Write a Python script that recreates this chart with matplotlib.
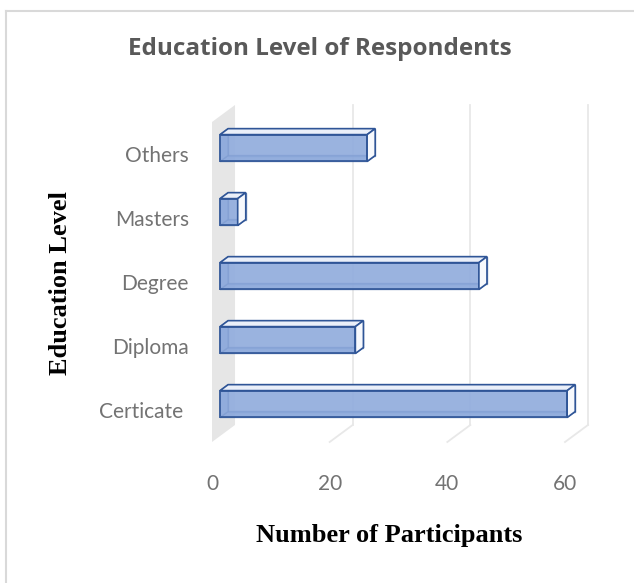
import numpy as np
import matplotlib.pyplot as plt
from matplotlib.patches import Polygon
from matplotlib.lines import Line2D

levels = ['Certicate ', 'Diploma', 'Degree', 'Masters', 'Others']
participants = [59, 23, 44, 3, 25]
x_ticks = [0, 20, 40, 60]

# oblique depth of the 3-D box: x in data units, y in category units
DX = 3.91
DY = 0.266
BAR_D0, BAR_D1 = 0.35, 0.70   # front / back of the bars, as a share of the depth
BAR_H = 0.42

EDGE = '#2f5597'
GRID = '#e8e8e8'

W, H = 634, 583
fig = plt.figure(figsize=(W / 100, H / 100), dpi=100)


def px_box(l, t, r, b):
    return [l / W, 1 - b / H, (r - l) / W, (b - t) / H]


ax = fig.add_axes(px_box(200, 95, 610, 455))
ax.set_xlim(-2.04, 67.65)
ax.set_ylim(-0.703, 4.922)
for s in ax.spines.values():
    s.set_visible(False)

n = len(levels)
y = np.arange(n)
v = np.array(participants, dtype=float)
y_lo, y_hi = -0.5, n - 0.5

# side wall on the left
wall = Polygon([(0, y_lo), (DX, y_lo + DY), (DX, y_hi + DY), (0, y_hi)],
               closed=True, facecolor='#e6e6e6', edgecolor='none', zorder=1)
ax.add_patch(wall)

# back wall gridlines and floor lines
for xt in x_ticks[1:]:
    ax.plot([xt + DX, xt + DX], [y_lo + DY, y_hi + DY], color=GRID, lw=1.3, zorder=1)
    ax.plot([xt, xt + DX], [y_lo, y_lo + DY], color=GRID, lw=1.3, zorder=1)

yf = y + BAR_D0 * DY
yb = y + BAR_D1 * DY
x0f, x0b = BAR_D0 * DX, BAR_D1 * DX
h2 = BAR_H / 2

# back face and hidden faces first, so the front shows them through
ax.barh(yb, v, left=x0b, height=BAR_H, color='#c9d6ef', alpha=0.6,
        edgecolor=EDGE, lw=1.0, zorder=2)
for i in range(n):
    bottom = [(x0f, yf[i] - h2), (x0f + v[i], yf[i] - h2),
              (x0b + v[i], yb[i] - h2), (x0b, yb[i] - h2)]
    left = [(x0f, yf[i] - h2), (x0b, yb[i] - h2),
            (x0b, yb[i] + h2), (x0f, yf[i] + h2)]
    ax.add_patch(Polygon(bottom, closed=True, facecolor='#7f9fd6', alpha=0.6,
                         edgecolor=EDGE, lw=1.0, zorder=2))
    ax.add_patch(Polygon(left, closed=True, facecolor='#7f9fd6', alpha=0.6,
                         edgecolor=EDGE, lw=1.0, zorder=2))

ax.barh(yf, v, left=x0f, height=BAR_H, color='#8eaadc', alpha=0.85,
        edgecolor=EDGE, lw=1.4, zorder=3)

for i in range(n):
    top = [(x0f, yf[i] + h2), (x0f + v[i], yf[i] + h2),
           (x0b + v[i], yb[i] + h2), (x0b, yb[i] + h2)]
    right = [(x0f + v[i], yf[i] - h2), (x0b + v[i], yb[i] - h2),
             (x0b + v[i], yb[i] + h2), (x0f + v[i], yf[i] + h2)]
    ax.add_patch(Polygon(top, closed=True, facecolor='#eaeff9',
                         edgecolor=EDGE, lw=1.2, zorder=4))
    ax.add_patch(Polygon(right, closed=True, facecolor='#f7f9fd',
                         edgecolor=EDGE, lw=1.2, zorder=4))

ax.set_yticks(y)
ax.set_yticklabels(levels, fontfamily='Lato', fontsize=15, color='#737373')
ax.set_xticks(x_ticks)
ax.set_xticklabels([str(t) for t in x_ticks], fontfamily='Lato', fontsize=15,
                   color='#737373')
ax.tick_params(axis='y', length=0, pad=8)
ax.tick_params(axis='x', length=0, pad=13.5)

fig.text(320 / W, 1 - 55 / H, 'Education Level of Respondents', ha='center',
         va='baseline', fontfamily='Open Sans', fontweight='bold', fontsize=17.5,
         color='#595959')
fig.text(389 / W, 1 - 542 / H, 'Number of Participants', ha='center',
         va='baseline', fontfamily='Liberation Serif', fontweight='bold',
         fontsize=19, color='black')
fig.text(67 / W, 1 - 283 / H, 'Education Level', ha='center', va='baseline',
         rotation=90, rotation_mode='anchor', fontfamily='Liberation Serif',
         fontweight='bold', fontsize=19, color='black')

# chart area border (top and left edges only are in view)
fig.add_artist(Line2D([6 / W, 6 / W], [0, 1 - 11 / H], color='#d9d9d9', lw=1.5))
fig.add_artist(Line2D([6 / W, 1], [1 - 11 / H, 1 - 11 / H], color='#d9d9d9', lw=1.5))

fig.savefig('out.png', dpi=100)
